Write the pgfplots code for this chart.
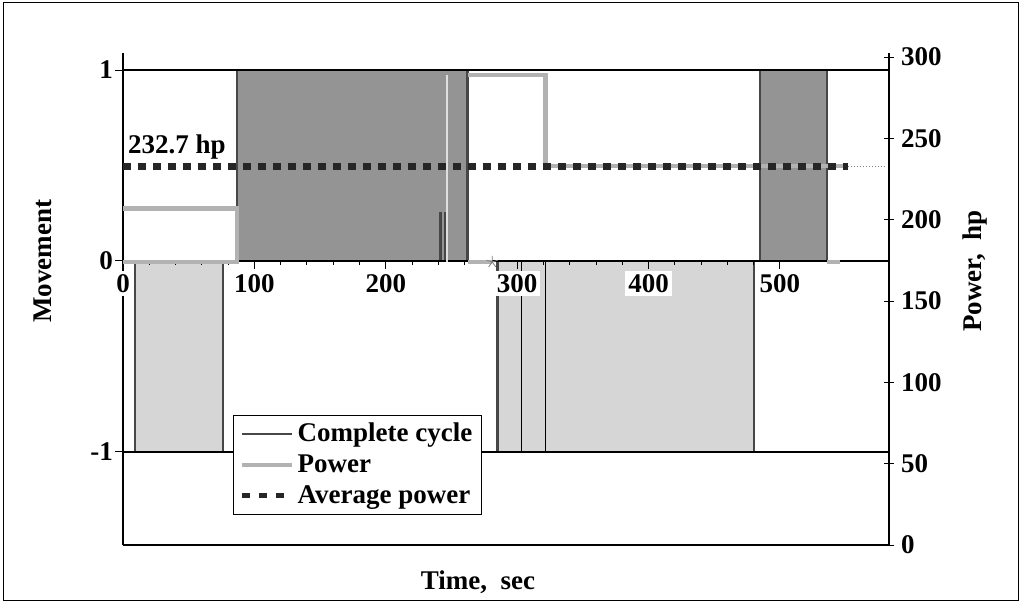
\documentclass[border=0pt]{standalone}
\usepackage{pgfplots}
\pgfplotsset{compat=1.18}
\usepackage{fontspec}
\setmainfont{Liberation Serif}
\definecolor{darkfill}{gray}{0.58}
\definecolor{lightfill}{gray}{0.84}
\definecolor{powercol}{gray}{0.70}
\definecolor{cyclecol}{gray}{0.28}
\definecolor{avgcol}{gray}{0.15}
\newcommand{\lbl}{\fontsize{13.5}{15}\bfseries\selectfont}
\begin{document}
\begin{tikzpicture}
\path[use as bounding box] (0,0) rectangle (512.5pt,301pt);
\draw[black, line width=0.5pt] (1.5pt,1pt) rectangle (509pt,300pt);
% ---------- movement axis ----------
\begin{axis}[
  scale only axis, width=383pt, height=246pt,
  at={(61.5pt,28.5pt)}, anchor=south west,
  xmin=0, xmax=583, ymin=-1.487, ymax=1.089,
  axis on top,
  axis x line=middle, axis y line=left,
  x axis line style={-, black, line width=0.6pt},
  y axis line style={-, black, line width=0.6pt},
  hide obscured x ticks=false, hide obscured y ticks=false,
  xtick={0,100,...,500}, minor x tick num=4,
  ytick={-1,0,1},
  ymajorgrids, grid style={black, line width=0.6pt},
  xtick style={black, line width=0.5pt},
  ytick style={black, line width=0.5pt},
  major tick length=4pt, minor tick length=2pt,
  xtick align=outside, ytick align=outside,
  tick label style={font=\lbl},
  /pgf/number format/assume math mode=true,
  xticklabel style={yshift=-1pt, fill=white, inner sep=1.5pt},
  yticklabel style={xshift=2.5pt},
  xlabel={Time,\ \ sec}, ylabel={Movement},
  every axis x label/.style={at={(rel axis cs:0.4634,-0.0752)}, anchor=center, font=\lbl},
  every axis y label/.style={at={(rel axis cs:-0.1044,0.577)}, anchor=center, rotate=90, font=\lbl},
]
\addplot[fill=darkfill, draw=none] coordinates {(86.9,1)(262.2,1)} \closedcycle;
\addplot[fill=darkfill, draw=none] coordinates {(484.8,1)(535.8,1)} \closedcycle;
\addplot[fill=lightfill, draw=none] coordinates {(9.1,-1)(76.2,-1)} \closedcycle;
\addplot[fill=lightfill, draw=none] coordinates {(285,-1)(480.2,-1)} \closedcycle;
\addplot[cyclecol, line width=1.2pt] coordinates {
 (0,0)(9.1,0)(9.1,-1)(76.2,-1)(76.2,0)(86.9,0)(86.9,1)(262.2,1)(262.2,0)
 (285,0)(285,-1)(480.2,-1)(480.2,0)(484.8,0)(484.8,1)(535.8,1)(535.8,0)(583,0)};
\addplot[black, line width=0.8pt] coordinates {(303.4,0)(303.4,-1)};
\addplot[black, line width=0.8pt] coordinates {(321.6,0)(321.6,-1)};
\addplot[cyclecol, line width=1.5pt] coordinates {(241.6,0)(241.6,0.257)};
\addplot[cyclecol, line width=1.5pt] coordinates {(245.4,0)(245.4,0.257)};
\draw[black, line width=0.6pt] (rel axis cs:0,0) -- (rel axis cs:1,0);
\end{axis}
% ---------- power axis ----------
\begin{axis}[
  scale only axis, width=383pt, height=246pt,
  at={(61.5pt,28.5pt)}, anchor=south west,
  xmin=0, xmax=583, ymin=0, ymax=302.5,
  axis x line=none, axis y line*=right,
  y axis line style={-, black, line width=0.6pt},
  ytick={0,50,...,300}, ytick align=center,
  ytick style={black, line width=0.5pt}, major tick length=5pt,
  tick label style={font=\lbl},
  /pgf/number format/assume math mode=true,
  ylabel={Power,\ \ hp},
  every axis y label/.style={at={(rel axis cs:1.1123,0.557)}, anchor=center, rotate=90, font=\lbl},
  legend style={at={(rel axis cs:0.1436,0.061)}, anchor=south west,
    draw=black, line width=0.6pt, font=\lbl, inner xsep=3pt, inner ysep=2.5pt, row sep=2pt,
    nodes={inner sep=1.5pt}},
  legend cell align=left,
  legend image code/.code={\draw[#1] (0pt,0pt) -- (25pt,0pt);},
]
\addplot[powercol, line width=2.2pt, forget plot] coordinates {(0,207)(86.9,207)(86.9,174)(0,174)};
\addplot[gray!25, line width=1pt, forget plot] coordinates {(246.5,174)(246.5,289)};
\addplot[powercol, line width=2.2pt, forget plot] coordinates {(262.2,289)(321.6,289)(321.6,233)(551.8,233)};
\addplot[powercol, line width=2.2pt, forget plot] coordinates {(262.2,174)(281,174)};
\addplot[powercol, line width=2.2pt, forget plot] coordinates {(535.8,174)(546,174)};
\addplot[gray, line width=0.5pt, densely dotted, forget plot] coordinates {(551.8,233)(580,233)};
\addplot[only marks, mark=star, mark size=3pt, gray, forget plot] coordinates {(281,174)};
\addplot[avgcol, line width=3.4pt, dash pattern=on 4pt off 3.5pt, forget plot] coordinates {(0,232.7)(551.8,232.7)};
\node[font=\lbl, anchor=center] at (axis cs:41,244.7) {232.7 hp};
\addlegendimage{cyclecol, line width=1.2pt}
\addlegendentry{Complete cycle\hspace{7pt}}
\addlegendimage{powercol, line width=2pt}
\addlegendentry{Power}
\addlegendimage{avgcol, line width=2.5pt, dash pattern=on 4pt off 4.5pt}
\addlegendentry{Average power}
\end{axis}
\end{tikzpicture}
\end{document}
